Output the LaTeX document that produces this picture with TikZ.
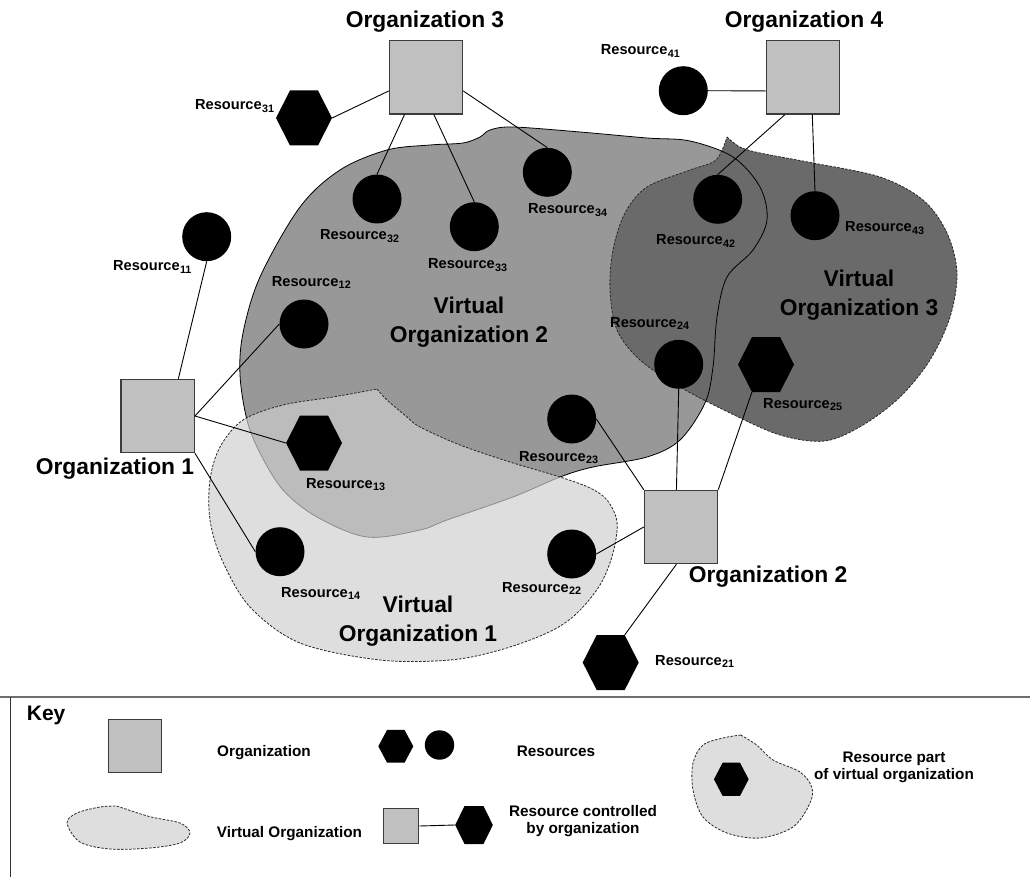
\documentclass[tikz,border=0pt]{standalone}
\usepackage{fontspec}
\setmainfont{Liberation Sans}
\usetikzlibrary{calc}
\definecolor{orgfill}{RGB}{192,192,192}
\definecolor{orgline}{RGB}{60,60,60}
\definecolor{vofillA}{RGB}{206,206,206}
\definecolor{vofillB}{RGB}{152,152,152}
\definecolor{vofillC}{RGB}{106,106,106}
\definecolor{keyfill}{RGB}{222,222,222}
\definecolor{keyline}{RGB}{110,110,110}
\newcommand{\Rs}[1]{Resource\kern0.3pt\raisebox{-2.6pt}{\fontsize{10.8}{12}\selectfont #1}}
\tikzset{
  org/.style={rectangle, draw=orgline, line width=1.2pt, fill=orgfill, minimum size=73.3pt, inner sep=0pt},
  res/.style={circle, fill=black, minimum size=49pt, inner sep=0pt},
  hexa/.style={rectangle, minimum width=56pt, minimum height=55pt, inner sep=0pt,
    path picture={\fill[black] (path picture bounding box.west)
      -- ($(path picture bounding box.north west)!.25!(path picture bounding box.north east)$)
      -- ($(path picture bounding box.north west)!.75!(path picture bounding box.north east)$)
      -- (path picture bounding box.east)
      -- ($(path picture bounding box.south west)!.75!(path picture bounding box.south east)$)
      -- ($(path picture bounding box.south west)!.25!(path picture bounding box.south east)$)
      -- cycle;}},
  link/.style={draw=black, line width=0.9pt},
  rlab/.style={anchor=base west, inner sep=0pt, font=\fontsize{14.6}{16}\selectfont\bfseries},
  olab/.style={inner sep=0pt, font=\fontsize{22.8}{28}\selectfont\bfseries},
  volab/.style={align=center, inner sep=0pt, font=\fontsize{22.8}{28.5}\selectfont\bfseries},
  klab/.style={inner sep=0pt, font=\fontsize{15.3}{17}\selectfont\bfseries},
  voedge/.style={draw=black!85, line width=0.8pt, dash pattern=on 2.5pt off 1.5pt},
}
\begin{document}
\begin{tikzpicture}[x=1pt,y=-1pt]
\useasboundingbox (0,0) rectangle (1030,877);

% ---------- Virtual organization 2 (fill) ----------
\fill[vofillB] plot[smooth cycle, tension=0.55] coordinates {
 (430,145) (463,143) (480,137) (490,130) (513,127) (580,132) (647,138) (690,141)
 (733,157) (760,187) (767,220) (753,250) (727,277) (717,317) (713,367) (705,403)
 (680,440) (647,457) (593,467) (560,477) (513,497) (447,520) (420,530) (367,537)
 (317,517) (283,490) (260,453) (247,420) (240,375) (243,333) (260,277) (300,207)
 (340,170) (387,150)};

% ---------- Virtual organization 3 ----------
\path[fill=vofillC, voedge] plot[smooth, tension=0.55] coordinates {
 (727,137) (740,147) (760,153) (813,163) (880,177) (923,200) (947,233) (957,273)
 (950,317) (930,360) (900,397) (863,425) (825,441) (780,435) (730,413) (680,387)
 (640,360) (617,330) (610,290) (613,250) (625,213) (647,187) (690,170) (716,160)
 (727,137)} -- cycle;

% ---------- Virtual organization 2 (outline) ----------
\draw[black, line width=0.8pt] plot[smooth cycle, tension=0.55] coordinates {
 (430,145) (463,143) (480,137) (490,130) (513,127) (580,132) (647,138) (690,141)
 (733,157) (760,187) (767,220) (753,250) (727,277) (717,317) (713,367) (705,403)
 (680,440) (647,457) (593,467) (560,477) (513,497) (447,520) (420,530) (367,537)
 (317,517) (283,490) (260,453) (247,420) (240,375) (243,333) (260,277) (300,207)
 (340,170) (387,150)};

% ---------- Virtual organization 1 ----------
\fill[vofillA, fill opacity=0.68] plot[smooth, tension=0.55] coordinates {
 (377,389) (387,400) (407,417) (420,427) (460,445) (510,462) (560,477) (590,488)
 (607,500) (617,522) (613,553) (600,585) (575,615) (547,633) (500,650) (450,660)
 (380,660) (300,643) (250,607) (222,560) (210,520) (210,480) (220,447) (243,420)
 (283,405) (333,397) (377,389)} -- cycle;
\draw[voedge] plot[smooth, tension=0.55] coordinates {
 (377,389) (387,400) (407,417) (420,427) (460,445) (510,462) (560,477) (590,488)
 (607,500) (617,522) (613,553) (600,585) (575,615) (547,633) (500,650) (450,660)
 (380,660) (300,643) (250,607) (222,560) (210,520) (210,480) (220,447) (243,420)
 (283,405) (333,397) (377,389)} -- cycle;

% ---------- Organizations ----------
\node[org] (o1) at (157.7,416) {};
\node[org] (o2) at (681,527) {};
\node[org] (o3) at (426,77.4) {};
\node[org] (o4) at (803,77.4) {};

% ---------- Resources ----------
\node[res]  (r11) at (206.7,236.7) {};
\node[res]  (r12) at (304,324) {};
\node[hexa] (r13) at (314,443) {};
\node[res]  (r14) at (280,551.7) {};
\node[hexa] (r21) at (610.7,662.5) {};
\node[res]  (r22) at (571.7,554) {};
\node[res]  (r23) at (571.7,419) {};
\node[res]  (r24) at (678.7,364.3) {};
\node[hexa] (r25) at (766,364.5) {};
\node[hexa] (r31) at (304,118) {};
\node[res]  (r32) at (377,199) {};
\node[res]  (r33) at (474.3,226.7) {};
\node[res]  (r34) at (547.3,172.3) {};
\node[res]  (r41) at (683.3,90.7) {};
\node[res]  (r42) at (717.7,199.3) {};
\node[res]  (r43) at (815,215.7) {};

% ---------- Connectors ----------
\draw[link] (o1.61) -- (r11.south);
\draw[link] (o1.east) -- (r12.west);
\draw[link] (o1.east) -- (r13.west);
\draw[link] (o1.south east) -- (r14.west);
\draw[link] (o2.263) -- ($(r21.north west)!.75!(r21.north east)$);
\draw[link] (o2.west) -- (r22.east);
\draw[link] (o2.north west) -- (r23.east);
\draw[link] (o2.97) -- (r24.south);
\draw[link] (o2.north east) -- ($(r25.south west)!.25!(r25.south east)$);
\draw[link] (o3.200) -- (r31.east);
\draw[link] (o3.240) -- (r32.north);
\draw[link] (o3.282) -- (r33.north);
\draw[link] (o3.340) -- (r34.north);
\draw[link] (o4.200) -- (r41.east);
\draw[link] (o4.244) -- (r42.north);
\draw[link] (o4.284) -- (r43.north);

% ---------- Labels ----------
\node[olab] (lo1) at (115,469) {Organization 1};
\node[olab] (lo2) at (768,577) {Organization 2};
\node[olab] (lo3) at (425,22) {Organization 3};
\node[olab] (lo4) at (804,22) {Organization 4};

\node[rlab] (l11) at (113,271) {\Rs{11}};
\node[rlab] (l12) at (271.7,286) {\Rs{12}};
\node[rlab] (l13) at (306,488) {\Rs{13}};
\node[rlab] (l14) at (281,597) {\Rs{14}};
\node[rlab] (l21) at (655,665) {\Rs{21}};
\node[rlab] (l22) at (502,592) {\Rs{22}};
\node[rlab] (l23) at (519,461) {\Rs{23}};
\node[rlab] (l24) at (610,327) {\Rs{24}};
\node[rlab] (l25) at (763,408) {\Rs{25}};
\node[rlab] (l31) at (195,110) {\Rs{31}};
\node[rlab] (l32) at (320,240) {\Rs{32}};
\node[rlab] (l33) at (428,269) {\Rs{33}};
\node[rlab] (l34) at (528,214) {\Rs{34}};
\node[rlab] (l41) at (600.7,55) {\Rs{41}};
\node[rlab] (l42) at (656,245) {\Rs{42}};
\node[rlab] (l43) at (845,232) {\Rs{43}};

\node[volab] (vo1) at (418,621) {Virtual\\Organization 1};
\node[volab] (vo2) at (469,322) {Virtual\\Organization 2};
\node[volab] (vo3) at (859,295) {Virtual\\Organization 3};

% ---------- Key ----------
\draw[keyline, line width=1.5pt] (0,697) -- (1030,697);
\draw[black!80, line width=1pt] (10.7,697) -- (10.7,877);
\node[anchor=base west, inner sep=0pt, font=\fontsize{21}{24}\selectfont\bfseries] (keyt) at (26.7,720.7) {Key};

\node[org, minimum size=53pt, line width=1pt] (ko1) at (135,745.8) {};
\node[klab, anchor=base west] (kl1) at (217,756.7) {Organization};

\node[hexa, minimum width=35pt, minimum height=32.7pt] (kh1) at (395.8,746.3) {};
\node[res, minimum size=29.4pt] (kc1) at (439.5,745) {};
\node[klab, anchor=base west] (kl2) at (516.7,756.7) {Resources};

\path[fill=keyfill, voedge] plot[smooth, tension=0.55] coordinates {
 (116.7,806) (150,816.7) (180,823) (190,833) (180,843) (150,848) (110,849)
 (80,842) (67,823) (77,813) (100,807) (116.7,806)} -- cycle;
\node[klab, anchor=base west] (kl3) at (216.7,837.7) {Virtual Organization};

\node[org, minimum size=35.7pt, line width=1pt] (ko2) at (401,826) {};
\node[hexa, minimum width=37.7pt, minimum height=38pt] (kh2) at (474,825) {};
\draw[link] (ko2.east) -- (kh2.west);
\node[klab, align=center] (kl4) at (583,821) {Resource controlled\\by organization};

\path[fill=keyfill, voedge] plot[smooth, tension=0.55] coordinates {
 (740.7,735) (756.7,745) (773,760) (800,772) (811.7,787) (810,803) (793,827)
 (760,838) (727,833) (703,817) (693,790) (693,763) (703,745) (723,738) (740.7,735)} -- cycle;
\node[hexa, minimum width=34.7pt, minimum height=33.3pt] (kh3) at (731.3,779.3) {};
\node[klab, align=center] (kl5) at (894,767) {Resource part\\of virtual organization};
\end{tikzpicture}
\end{document}
